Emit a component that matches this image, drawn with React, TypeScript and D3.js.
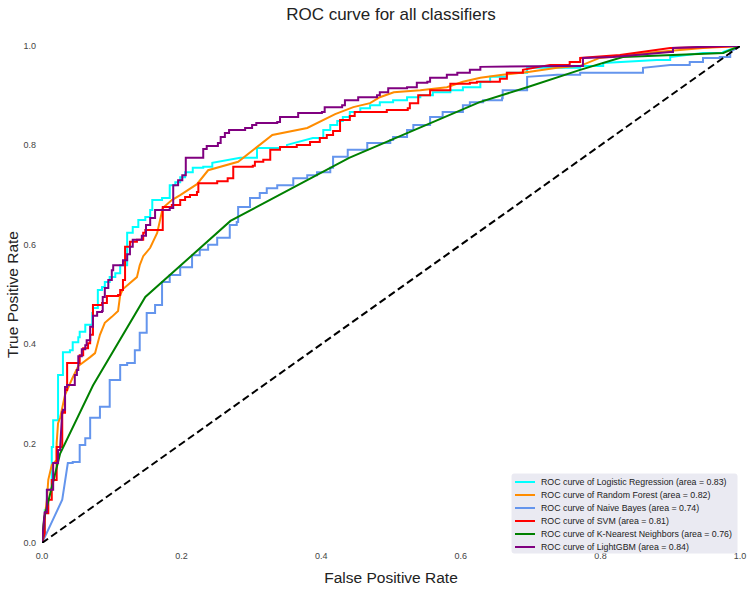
import React from "react";
import * as d3 from "d3";

const W = 749;
const H = 594;
const margin = { left: 42, right: 9, top: 46, bottom: 51 };

const title = "ROC curve for all classifiers";
const xLabel = "False Positive Rate";
const yLabel = "True Positive Rate";
const ticks = [0, 0.2, 0.4, 0.6, 0.8, 1.0];

const classifierNames = ["Logistic Regression", "Random Forest", "Naive Bayes", "SVM", "K-Nearest Neighbors", "LightGBM"];
const aucValues = [0.83, 0.82, 0.74, 0.81, 0.76, 0.84];
const colors = ["aqua", "darkorange", "cornflowerblue", "red", "green", "purple"];
const stepped = [true, false, true, true, false, true];

const rocLR: [number, number][] = [
  [0, 0], [0.004, 0.02], [0.004, 0.066], [0.007, 0.107], [0.014, 0.113], [0.014, 0.193], [0.016, 0.247],
  [0.023, 0.252], [0.023, 0.338], [0.03, 0.348], [0.03, 0.384], [0.04, 0.388], [0.044, 0.404], [0.052, 0.414],
  [0.054, 0.425], [0.062, 0.439], [0.066, 0.439], [0.072, 0.463], [0.073, 0.473], [0.08, 0.509], [0.086, 0.515],
  [0.09, 0.525], [0.097, 0.535], [0.105, 0.543], [0.112, 0.559], [0.119, 0.559], [0.122, 0.624], [0.13, 0.636],
  [0.138, 0.65], [0.148, 0.656], [0.155, 0.67], [0.158, 0.69], [0.172, 0.694], [0.183, 0.696], [0.183, 0.72],
  [0.191, 0.726], [0.198, 0.736], [0.205, 0.746], [0.216, 0.755], [0.231, 0.757], [0.244, 0.765], [0.284, 0.775],
  [0.308, 0.795], [0.341, 0.797], [0.351, 0.801], [0.388, 0.815], [0.403, 0.831], [0.413, 0.841], [0.423, 0.849],
  [0.431, 0.857], [0.441, 0.867], [0.456, 0.875], [0.47, 0.881], [0.484, 0.887], [0.503, 0.891], [0.523, 0.897],
  [0.542, 0.901], [0.56, 0.907], [0.585, 0.911], [0.603, 0.917], [0.628, 0.928], [0.642, 0.938], [0.656, 0.938],
  [0.666, 0.946], [0.692, 0.946], [0.695, 0.956], [0.746, 0.956], [0.771, 0.96], [0.804, 0.966], [0.881, 0.972],
  [0.9, 0.978], [0.947, 0.986], [0.976, 0.988], [1, 1],
];

const rocRF: [number, number][] = [
  [0, 0], [0.001, 0.02], [0.007, 0.087], [0.009, 0.127], [0.014, 0.157], [0.021, 0.167], [0.021, 0.201],
  [0.023, 0.241], [0.026, 0.252], [0.033, 0.298], [0.043, 0.33], [0.052, 0.356], [0.069, 0.374], [0.076, 0.382],
  [0.083, 0.419], [0.09, 0.443], [0.1, 0.455], [0.109, 0.467], [0.112, 0.499], [0.116, 0.511], [0.136, 0.535],
  [0.14, 0.559], [0.145, 0.577], [0.155, 0.594], [0.165, 0.624], [0.173, 0.674], [0.186, 0.69], [0.198, 0.7],
  [0.222, 0.722], [0.238, 0.75], [0.281, 0.767], [0.33, 0.821], [0.38, 0.835], [0.42, 0.863], [0.446, 0.877],
  [0.47, 0.885], [0.484, 0.897], [0.504, 0.907], [0.542, 0.911], [0.58, 0.917], [0.603, 0.928], [0.628, 0.936],
  [0.66, 0.942], [0.699, 0.948], [0.738, 0.956], [0.771, 0.96], [0.799, 0.976], [0.881, 0.988], [0.947, 0.996],
  [1, 1],
];

const rocNB: [number, number][] = [
  [0, 0], [0.029, 0.087], [0.037, 0.161], [0.044, 0.163], [0.054, 0.197], [0.062, 0.211], [0.069, 0.252],
  [0.083, 0.274], [0.097, 0.328], [0.112, 0.358], [0.122, 0.362], [0.133, 0.388], [0.14, 0.423], [0.15, 0.463],
  [0.162, 0.479], [0.172, 0.525], [0.183, 0.539], [0.198, 0.555], [0.215, 0.579], [0.226, 0.59], [0.238, 0.6],
  [0.251, 0.614], [0.269, 0.64], [0.279, 0.646], [0.281, 0.676], [0.298, 0.694], [0.312, 0.704], [0.322, 0.714],
  [0.337, 0.72], [0.36, 0.734], [0.38, 0.74], [0.394, 0.746], [0.413, 0.755], [0.417, 0.777], [0.438, 0.791],
  [0.466, 0.805], [0.499, 0.811], [0.503, 0.817], [0.523, 0.831], [0.532, 0.841], [0.556, 0.857], [0.574, 0.867],
  [0.603, 0.881], [0.613, 0.887], [0.632, 0.891], [0.659, 0.895], [0.66, 0.911], [0.695, 0.922], [0.695, 0.938],
  [0.738, 0.942], [0.771, 0.946], [0.861, 0.946], [0.861, 0.956], [0.9, 0.962], [0.928, 0.968], [0.947, 0.976],
  [0.971, 0.978], [0.986, 0.988], [1, 1],
];

const rocSVM: [number, number][] = [
  [0, 0], [0.004, 0.02], [0.004, 0.06], [0.009, 0.06], [0.009, 0.087], [0.014, 0.087], [0.014, 0.127],
  [0.019, 0.127], [0.021, 0.161], [0.021, 0.193], [0.026, 0.193], [0.029, 0.262], [0.033, 0.262], [0.033, 0.308],
  [0.036, 0.362], [0.047, 0.362], [0.054, 0.378], [0.059, 0.392], [0.066, 0.402], [0.069, 0.419], [0.073, 0.479],
  [0.086, 0.483], [0.093, 0.497], [0.109, 0.499], [0.112, 0.509], [0.116, 0.529], [0.119, 0.596], [0.126, 0.606],
  [0.136, 0.61], [0.145, 0.624], [0.148, 0.63], [0.162, 0.63], [0.173, 0.644], [0.173, 0.676], [0.186, 0.68],
  [0.198, 0.69], [0.205, 0.696], [0.212, 0.7], [0.222, 0.706], [0.224, 0.724], [0.251, 0.728], [0.266, 0.734],
  [0.274, 0.757], [0.302, 0.759], [0.305, 0.767], [0.317, 0.771], [0.327, 0.791], [0.341, 0.797], [0.365, 0.801],
  [0.384, 0.807], [0.398, 0.815], [0.408, 0.821], [0.417, 0.829], [0.427, 0.851], [0.441, 0.859], [0.448, 0.867],
  [0.47, 0.867], [0.494, 0.871], [0.524, 0.875], [0.527, 0.885], [0.539, 0.901], [0.556, 0.911], [0.585, 0.924],
  [0.613, 0.926], [0.623, 0.928], [0.656, 0.934], [0.666, 0.946], [0.689, 0.952], [0.728, 0.962], [0.756, 0.968],
  [0.771, 0.976], [0.828, 0.982], [0.9, 0.996], [0.961, 0.998], [1, 1],
];

const rocKNN: [number, number][] = [
  [0, 0], [0.003, 0.05], [0.026, 0.18], [0.073, 0.317], [0.148, 0.495], [0.27, 0.648], [0.44, 0.775],
  [0.627, 0.887], [0.695, 0.917], [0.771, 0.952], [0.832, 0.978], [0.976, 0.986], [1, 1],
];

const rocLGBM: [number, number][] = [
  [0, 0], [0.004, 0.062], [0.007, 0.107], [0.011, 0.107], [0.016, 0.123], [0.016, 0.161], [0.021, 0.161],
  [0.023, 0.187], [0.026, 0.193], [0.029, 0.264], [0.03, 0.268], [0.033, 0.314], [0.036, 0.318], [0.047, 0.338],
  [0.05, 0.348], [0.052, 0.376], [0.057, 0.39], [0.062, 0.398], [0.064, 0.408], [0.069, 0.435], [0.073, 0.457],
  [0.079, 0.465], [0.086, 0.467], [0.087, 0.495], [0.09, 0.513], [0.095, 0.529], [0.1, 0.549], [0.102, 0.559],
  [0.116, 0.569], [0.122, 0.581], [0.126, 0.596], [0.13, 0.61], [0.143, 0.618], [0.149, 0.64], [0.155, 0.654],
  [0.162, 0.67], [0.183, 0.674], [0.188, 0.72], [0.195, 0.73], [0.201, 0.74], [0.206, 0.775], [0.228, 0.775],
  [0.231, 0.793], [0.236, 0.799], [0.252, 0.805], [0.256, 0.817], [0.262, 0.825], [0.268, 0.831], [0.291, 0.835],
  [0.301, 0.841], [0.307, 0.845], [0.337, 0.847], [0.341, 0.857], [0.367, 0.865], [0.401, 0.867], [0.405, 0.877],
  [0.43, 0.881], [0.434, 0.891], [0.453, 0.897], [0.48, 0.901], [0.484, 0.907], [0.496, 0.915], [0.523, 0.917],
  [0.537, 0.926], [0.552, 0.928], [0.556, 0.936], [0.58, 0.942], [0.595, 0.946], [0.613, 0.952], [0.628, 0.958],
  [0.746, 0.96], [0.775, 0.976], [0.818, 0.978], [0.9, 0.988], [0.904, 0.996], [0.976, 1], [1, 1],
];

const curves = [rocLR, rocRF, rocNB, rocSVM, rocKNN, rocLGBM];
const diagonal: [number, number][] = [[0, 0], [1, 1]];

// Turn small diagonal hops into horizontal-then-vertical steps (staircase look of ROC curves)
function toSteps(pts: [number, number][]): [number, number][] {
  const out: [number, number][] = [pts[0]];
  for (let i = 1; i < pts.length; i++) {
    const a = pts[i - 1];
    const b = pts[i];
    const dx = b[0] - a[0];
    const dy = b[1] - a[1];
    const isEnd = i === 1 || i === pts.length - 1;
    if (!isEnd && dx > 0 && dy > 0 && dx <= 0.035 && dy <= 0.07) {
      out.push([b[0], a[1]]);
    }
    out.push(b);
  }
  return out;
}

export default function App() {
  const x = d3.scaleLinear().domain([0, 1]).range([margin.left, W - margin.right]);
  const y = d3.scaleLinear().domain([0, 1]).range([H - margin.bottom, margin.top]);
  const line = d3.line<[number, number]>().x((d) => x(d[0])).y((d) => y(d[1]));
  const font = "'Liberation Sans', Arial, Helvetica, sans-serif";
  const cx = (x(0) + x(1)) / 2;
  const cy = (y(0) + y(1)) / 2;

  const legX = 512;
  const legY = 474;
  const legW = 225;
  const legH = 79;
  const rowH = 13;

  return (
    <svg width={W} height={H} style={{ position: "absolute", left: 0, top: 0, display: "block", background: "#fff" }} fontFamily={font}>
      <defs>
        <clipPath id="plotclip">
          <rect x={x(0)} y={y(1)} width={x(1) - x(0)} height={y(0) - y(1)} />
        </clipPath>
      </defs>
      <text x={cx} y={20} textAnchor="middle" fontSize={17} fill="#222">{title}</text>
      <g clipPath="url(#plotclip)">
        {curves.map((c, i) => (
          <path
            key={i}
            d={line(stepped[i] ? toSteps(c) : c) || ""}
            fill="none"
            stroke={colors[i]}
            strokeWidth={2}
            strokeLinejoin="miter"
          />
        ))}
        <path d={line(diagonal) || ""} fill="none" stroke="#000" strokeWidth={2} strokeDasharray="7.4,3.8" />
      </g>
      {ticks.map((t) => (
        <text key={"x" + t} x={x(t)} y={H - margin.bottom + 16} textAnchor="middle" fontSize={9} fill="#444">
          {t.toFixed(1)}
        </text>
      ))}
      {ticks.map((t) => (
        <text key={"y" + t} x={x(0) - 6} y={y(t) + 3} textAnchor="end" fontSize={9} fill="#444">
          {t.toFixed(1)}
        </text>
      ))}
      <text x={cx} y={H - 11} textAnchor="middle" fontSize={15.5} fill="#222">{xLabel}</text>
      <text transform={`translate(18,${cy}) rotate(-90)`} textAnchor="middle" fontSize={15.5} fill="#222">{yLabel}</text>
      <g>
        <rect x={legX} y={legY} width={legW} height={legH} rx={2} fill="#eaeaf2" stroke="#eaeaf2" />
        {classifierNames.map((n, i) => (
          <g key={n}>
            <line x1={legX + 3} x2={legX + 23} y1={legY + 8 + i * rowH} y2={legY + 8 + i * rowH} stroke={colors[i]} strokeWidth={2} />
            <text x={legX + 29} y={legY + 11 + i * rowH} fontSize={8.8} fill="#222">
              {`ROC curve of ${n} (area = ${aucValues[i].toFixed(2)})`}
            </text>
          </g>
        ))}
      </g>
    </svg>
  );
}
